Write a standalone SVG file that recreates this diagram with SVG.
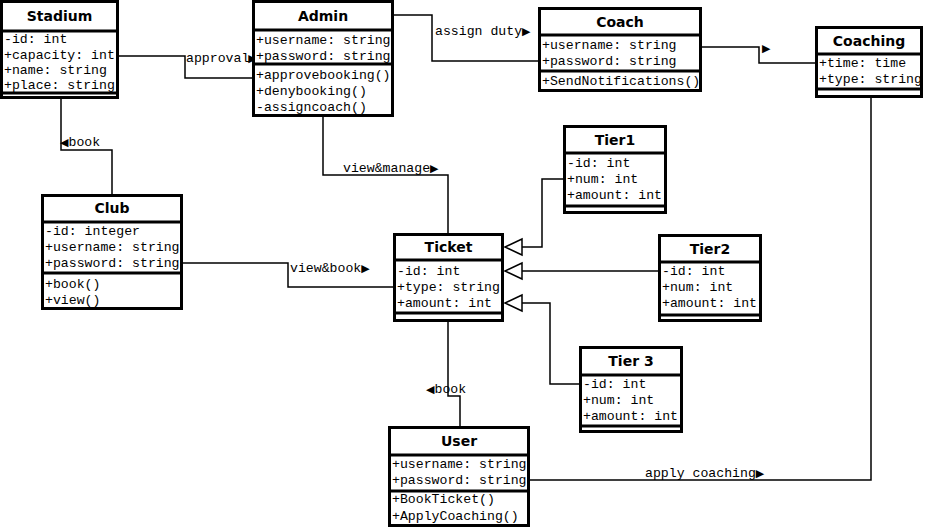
<svg xmlns="http://www.w3.org/2000/svg" width="928" height="528" viewBox="0 0 928 528">
<style>
.box{fill:#fff;stroke:#000;stroke-width:3}
.sep{stroke:#000;stroke-width:3}
.t{font-family:"DejaVu Sans",Verdana,sans-serif;font-weight:bold;font-size:14px;text-anchor:middle;fill:#000}
.a{font-family:"Liberation Mono","Courier New",monospace;font-size:13.2px;fill:#000}
.c{fill:none;stroke:#000;stroke-width:1.5}
.ar{font-family:"DejaVu Sans",sans-serif;font-size:11px}
</style>
<defs>
<marker id="gen" viewBox="0 0 20 20" markerUnits="userSpaceOnUse" markerWidth="20" markerHeight="20" refX="18" refY="10" orient="auto">
<path d="M1,2 L18,10 L1,18 Z" fill="#fff" stroke="#000" stroke-width="1.5"/>
</marker>
</defs>
<rect width="928" height="528" fill="#fff"/>

<g id="connectors">
<path class="c" d="M119 56 H185 V78 H252"/>
<path class="c" d="M394 15 H432 V61 H538"/>
<path class="c" d="M702 47 H759 V63 H815"/>
<path class="c" d="M61 99 V150 H112 V194"/>
<path class="c" d="M323 117 V175 H448 V233"/>
<path class="c" d="M183 263 H288 V287 H393"/>
<path class="c" d="M448 322 V396 H460 V426"/>
<path class="c" d="M871 98 V480 H530"/>
<path class="c" d="M563 179 H542 V247 H505" marker-end="url(#gen)"/>
<path class="c" d="M658 271 H505" marker-end="url(#gen)"/>
<path class="c" d="M579 384 H550 V303 H505" marker-end="url(#gen)"/>
<text class="a" x="186" y="62" font-size="12.6">approval<tspan class="ar" dx="-1">▶</tspan></text>
<text class="a" x="435" y="35">assign duty<tspan class="ar">▶</tspan></text>
<text class="a" x="762" y="52"><tspan class="ar">▶</tspan></text>
<text class="a" x="60" y="146"><tspan class="ar">◀</tspan>book</text>
<text class="a" x="343" y="172">view&amp;manage<tspan class="ar">▶</tspan></text>
<text class="a" x="290" y="272">view&amp;book<tspan class="ar">▶</tspan></text>
<text class="a" x="426" y="393"><tspan class="ar">◀</tspan>book</text>
<text class="a" x="645" y="477">apply coaching<tspan class="ar">▶</tspan></text>
</g>

<g id="stadium">
<rect class="box" x="1.5" y="1.5" width="116" height="96"/>
<line class="sep" x1="1.5" y1="31" x2="117.5" y2="31"/>
<line class="sep" x1="1.5" y1="93" x2="117.5" y2="93"/>
<text class="t" x="59.5" y="21">Stadium</text>
<text class="a" x="4" y="43">-id: int</text>
<text class="a" x="4" y="59">+capacity: int</text>
<text class="a" x="4" y="74">+name: string</text>
<text class="a" x="4" y="89">+place: string</text>
</g>

<g id="admin">
<rect class="box" x="253.5" y="1.5" width="139" height="114"/>
<line class="sep" x1="253.5" y1="30" x2="392.5" y2="30"/>
<line class="sep" x1="253.5" y1="64" x2="392.5" y2="64"/>
<text class="t" x="323" y="21">Admin</text>
<text class="a" x="256" y="44">+username: string</text>
<text class="a" x="256" y="60">+password: string</text>
<text class="a" x="256" y="79">+approvebooking()</text>
<text class="a" x="256" y="95">+denybooking()</text>
<text class="a" x="256" y="111">-assigncoach()</text>
</g>

<g id="coach">
<rect class="box" x="539.5" y="8.5" width="161" height="82"/>
<line class="sep" x1="539.5" y1="35" x2="700.5" y2="35"/>
<line class="sep" x1="539.5" y1="71" x2="700.5" y2="71"/>
<text class="t" x="620" y="27">Coach</text>
<text class="a" x="542" y="49">+username: string</text>
<text class="a" x="542" y="65">+password: string</text>
<text class="a" x="542" y="85">+SendNotifications()</text>
</g>

<g id="coaching">
<rect class="box" x="816.5" y="27.5" width="105" height="69"/>
<line class="sep" x1="816.5" y1="54" x2="921.5" y2="54"/>
<line class="sep" x1="816.5" y1="89" x2="921.5" y2="89"/>
<text class="t" x="869" y="46">Coaching</text>
<text class="a" x="819" y="67">+time: time</text>
<text class="a" x="819" y="83">+type: string</text>
</g>

<g id="club">
<rect class="box" x="42.5" y="195.5" width="139" height="113"/>
<line class="sep" x1="42.5" y1="222" x2="181.5" y2="222"/>
<line class="sep" x1="42.5" y1="273" x2="181.5" y2="273"/>
<text class="t" x="112" y="213">Club</text>
<text class="a" x="45" y="235">-id: integer</text>
<text class="a" x="45" y="251">+username: string</text>
<text class="a" x="45" y="267">+password: string</text>
<text class="a" x="45" y="288">+book()</text>
<text class="a" x="45" y="304">+view()</text>
</g>

<g id="ticket">
<rect class="box" x="394.5" y="234.5" width="108" height="86"/>
<line class="sep" x1="394.5" y1="260" x2="502.5" y2="260"/>
<line class="sep" x1="394.5" y1="313" x2="502.5" y2="313"/>
<text class="t" x="448.5" y="252">Ticket</text>
<text class="a" x="397" y="275">-id: int</text>
<text class="a" x="397" y="291">+type: string</text>
<text class="a" x="397" y="307">+amount: int</text>
</g>

<g id="tier1">
<rect class="box" x="564.5" y="126.5" width="101" height="86"/>
<line class="sep" x1="564.5" y1="153" x2="665.5" y2="153"/>
<line class="sep" x1="564.5" y1="206" x2="665.5" y2="206"/>
<text class="t" x="615" y="145">Tier1</text>
<text class="a" x="567" y="167">-id: int</text>
<text class="a" x="567" y="183">+num: int</text>
<text class="a" x="567" y="199">+amount: int</text>
</g>

<g id="tier2">
<rect class="box" x="659.5" y="235.5" width="101" height="85"/>
<line class="sep" x1="659.5" y1="262" x2="760.5" y2="262"/>
<line class="sep" x1="659.5" y1="315" x2="760.5" y2="315"/>
<text class="t" x="710" y="254">Tier2</text>
<text class="a" x="662" y="275">-id: int</text>
<text class="a" x="662" y="291">+num: int</text>
<text class="a" x="662" y="307">+amount: int</text>
</g>

<g id="tier3">
<rect class="box" x="580.5" y="347.5" width="101" height="84"/>
<line class="sep" x1="580.5" y1="375" x2="681.5" y2="375"/>
<line class="sep" x1="580.5" y1="426" x2="681.5" y2="426"/>
<text class="t" x="631" y="366">Tier 3</text>
<text class="a" x="583" y="388">-id: int</text>
<text class="a" x="583" y="404">+num: int</text>
<text class="a" x="583" y="420">+amount: int</text>
</g>

<g id="user">
<rect class="box" x="389.5" y="427.5" width="139" height="98"/>
<line class="sep" x1="389.5" y1="455" x2="528.5" y2="455"/>
<line class="sep" x1="389.5" y1="491" x2="528.5" y2="491"/>
<text class="t" x="459" y="446">User</text>
<text class="a" x="392" y="468">+username: string</text>
<text class="a" x="392" y="484">+password: string</text>
<text class="a" x="392" y="503">+BookTicket()</text>
<text class="a" x="392" y="520">+ApplyCoaching()</text>
</g>
</svg>
